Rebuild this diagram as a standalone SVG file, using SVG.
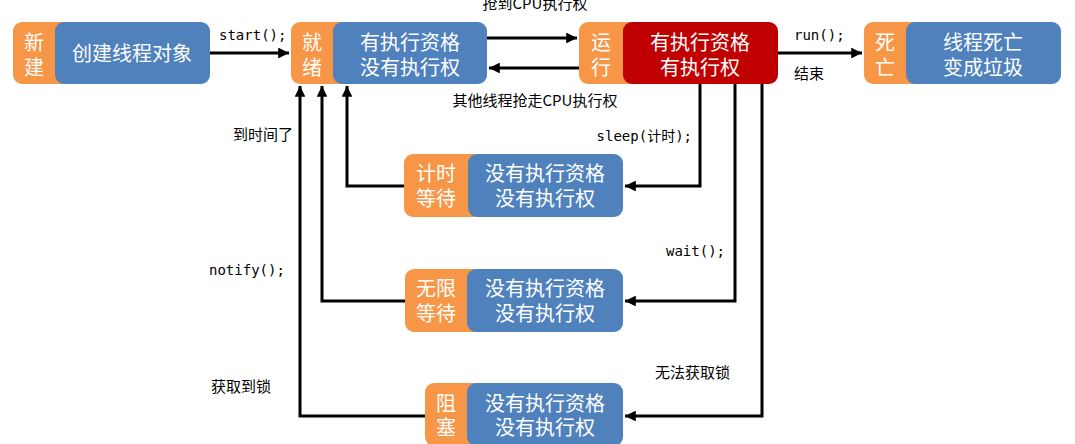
<svg xmlns="http://www.w3.org/2000/svg" width="1075" height="444" viewBox="0 0 1075 444">
<defs>
<marker id="arr" viewBox="0 0 10 10" refX="10" refY="5" markerWidth="3.6" markerHeight="3.6" orient="auto" markerUnits="strokeWidth">
<path d="M0,0 L10,5 L0,10 z" fill="#000"/>
</marker>
<style>
.or{fill:#F79646}
.bl{fill:#4F81BD}
.rd{fill:#C00000}
.bt{font-family:"Noto Sans CJK SC","Microsoft YaHei",sans-serif;font-size:20px;fill:#fff;text-anchor:middle}
.lb{font-family:"Noto Sans CJK SC",sans-serif;font-size:15px;fill:#000}
.cd{font-family:"DejaVu Sans Mono","Liberation Mono","Noto Sans CJK SC",monospace;font-size:14px;fill:#000}
.ln{fill:none;stroke:#000;stroke-width:3}
</style>
</defs>
<rect width="1075" height="444" fill="#fff"/>
<g id="connectors">
<path class="ln" d="M210,53 H289" marker-end="url(#arr)"/>
<path class="ln" d="M487,38 H577" marker-end="url(#arr)"/>
<path class="ln" d="M579,68 H489" marker-end="url(#arr)"/>
<path class="ln" d="M778,53 H862" marker-end="url(#arr)"/>
<path class="ln" d="M700,84 V186 H625" marker-end="url(#arr)"/>
<path class="ln" d="M735,84 V301 H625" marker-end="url(#arr)"/>
<path class="ln" d="M762,84 V416 H625" marker-end="url(#arr)"/>
<path class="ln" d="M404,186 H347 V86" marker-end="url(#arr)"/>
<path class="ln" d="M405,301 H322 V86" marker-end="url(#arr)"/>
<path class="ln" d="M425,416 H300 V86" marker-end="url(#arr)"/>
</g>
<g id="labels">
<text class="cd" x="219" y="40">start();</text>
<text class="lb" x="535" y="9" text-anchor="middle">抢到CPU执行权</text>
<text class="lb" x="535" y="106" text-anchor="middle">其他线程抢走CPU执行权</text>
<text class="cd" x="794" y="40">run();</text>
<text class="lb" x="794" y="79">结束</text>
<text class="cd" x="692" y="141" text-anchor="end">sleep(计时);</text>
<text class="lb" x="233" y="140">到时间了</text>
<text class="cd" x="725" y="256" text-anchor="end">wait();</text>
<text class="cd" x="209" y="275">notify();</text>
<text class="lb" x="655" y="378">无法获取锁</text>
<text class="lb" x="211" y="392">获取到锁</text>
</g>
<g id="node-new">
<rect class="or" x="13" y="22" width="70" height="62" rx="9"/>
<rect class="bl" x="55" y="22" width="155" height="62" rx="9"/>
<text class="bt" x="34" y="49.5">新</text>
<text class="bt" x="34" y="74.5">建</text>
<text class="bt" x="132" y="60.5">创建线程对象</text>
</g>
<g id="node-ready">
<rect class="or" x="291" y="22" width="70" height="62" rx="9"/>
<rect class="bl" x="333" y="22" width="154" height="62" rx="9"/>
<text class="bt" x="312" y="49.5">就</text>
<text class="bt" x="312" y="74.5">绪</text>
<text class="bt" x="410" y="49.5">有执行资格</text>
<text class="bt" x="410" y="74.5">没有执行权</text>
</g>
<g id="node-running">
<rect class="or" x="579" y="22" width="70" height="62" rx="9"/>
<rect class="rd" x="623" y="22" width="155" height="62" rx="9"/>
<text class="bt" x="601" y="49.5">运</text>
<text class="bt" x="601" y="74.5">行</text>
<text class="bt" x="700" y="49.5">有执行资格</text>
<text class="bt" x="700" y="74.5">有执行权</text>
</g>
<g id="node-dead">
<rect class="or" x="864" y="22" width="70" height="62" rx="9"/>
<rect class="bl" x="906" y="22" width="155" height="62" rx="9"/>
<text class="bt" x="885" y="49.5">死</text>
<text class="bt" x="885" y="74.5">亡</text>
<text class="bt" x="983" y="49.5">线程死亡</text>
<text class="bt" x="983" y="74.5">变成垃圾</text>
</g>
<g id="node-timed-waiting">
<rect class="or" x="404" y="154" width="80" height="63" rx="9"/>
<rect class="bl" x="468" y="154" width="155" height="63" rx="9"/>
<text class="bt" x="436" y="180.5">计时</text>
<text class="bt" x="436" y="205.5">等待</text>
<text class="bt" x="545" y="180.5">没有执行资格</text>
<text class="bt" x="545" y="205.5">没有执行权</text>
</g>
<g id="node-waiting">
<rect class="or" x="405" y="269" width="80" height="63" rx="9"/>
<rect class="bl" x="467" y="269" width="156" height="63" rx="9"/>
<text class="bt" x="436" y="295.5">无限</text>
<text class="bt" x="436" y="320.5">等待</text>
<text class="bt" x="545" y="295.5">没有执行资格</text>
<text class="bt" x="545" y="320.5">没有执行权</text>
</g>
<g id="node-blocked">
<rect class="or" x="425" y="383" width="60" height="63" rx="9"/>
<rect class="bl" x="467" y="383" width="156" height="63" rx="9"/>
<text class="bt" x="446" y="410.5">阻</text>
<text class="bt" x="446" y="434.5">塞</text>
<text class="bt" x="545" y="410.5">没有执行资格</text>
<text class="bt" x="545" y="434.5">没有执行权</text>
</g>
</svg>
